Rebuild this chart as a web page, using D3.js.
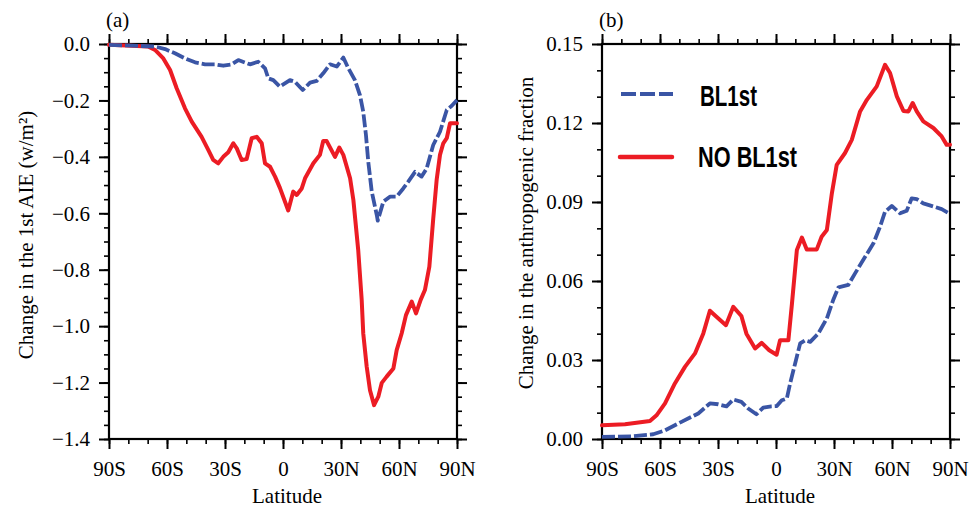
<!DOCTYPE html>
<html><head><meta charset="utf-8">
<script src="https://cdn.jsdelivr.net/npm/d3@7"></script>
<style>body{margin:0;background:#fff}</style>
</head><body><svg id="c" width="969" height="510"></svg>
<script>
const latTicks=[-90,-60,-30,0,30,60,90];
const latTickLabels=["90S","60S","30S","0","30N","60N","90N"];
const aTicks=[0,-0.2,-0.4,-0.6,-0.8,-1.0,-1.2,-1.4];
const aTickLabels=["0.0","\u22120.2","\u22120.4","\u22120.6","\u22120.8","\u22121.0","\u22121.2","\u22121.4"];
const bTicks=[0,0.03,0.06,0.09,0.12,0.15];
const bTickLabels=["0.00","0.03","0.06","0.09","0.12","0.15"];
const seriesNames=["BL1st","NO BL1st"];
const panelLabels=["(a)","(b)"];
const aTitle="Change in the 1st AIE (w/m\u00B2)";
const bTitle="Change in the anthropogenic fraction";
const xTitle="Latitude";

// Panel (a)
const aBL1stLat=[-90,-66.2,-61.0,-55.9,-50.7,-45.5,-40.3,-35.2,-30.9,-26.5,-23.1,-17.1,-12.8,-9.3,-7.6,-5.0,-1.6,3.6,6.2,10.2,14.0,17.4,20.8,24.3,27.8,31.2,33.8,37.2,39.8,41.5,42.9,44.1,45.9,48.5,49.0,51.9,55.3,58.8,62.2,64.8,68.3,71.7,74.3,77.7,81.2,84.7,87.3,90];
const aBL1stVal=[-0.003,-0.009,-0.018,-0.033,-0.051,-0.065,-0.072,-0.072,-0.077,-0.072,-0.057,-0.072,-0.063,-0.086,-0.122,-0.128,-0.151,-0.128,-0.134,-0.163,-0.137,-0.131,-0.104,-0.072,-0.080,-0.048,-0.086,-0.128,-0.181,-0.240,-0.322,-0.417,-0.523,-0.606,-0.626,-0.559,-0.541,-0.541,-0.512,-0.488,-0.453,-0.470,-0.441,-0.358,-0.311,-0.234,-0.219,-0.199];
const aNoLat=[-90,-69.8,-66.2,-61.9,-58.4,-55.0,-50.7,-47.2,-42.1,-38.6,-36.1,-33.5,-30.9,-28.3,-25.7,-23.9,-21.4,-18.8,-16.2,-13.6,-11.0,-9.3,-6.7,-4.1,-1.6,2.7,5.3,7.1,9.7,11.4,15.7,19.1,20.8,22.6,26.9,29.1,31.2,34.7,36.4,38.9,40.7,41.5,43.3,45.0,47.1,49.3,51.1,53.6,57.1,58.8,61.4,63.6,66.6,68.8,71.2,73.4,75.7,77.7,79.5,81.2,82.9,84.7,86.4,90];
const aNoVal=[-0.003,-0.009,-0.021,-0.051,-0.092,-0.157,-0.228,-0.275,-0.329,-0.376,-0.411,-0.423,-0.400,-0.384,-0.352,-0.370,-0.411,-0.408,-0.334,-0.329,-0.352,-0.423,-0.435,-0.470,-0.510,-0.590,-0.523,-0.535,-0.512,-0.476,-0.423,-0.393,-0.344,-0.344,-0.400,-0.367,-0.393,-0.476,-0.553,-0.730,-0.907,-1.025,-1.144,-1.227,-1.280,-1.250,-1.201,-1.179,-1.150,-1.085,-1.025,-0.961,-0.913,-0.955,-0.907,-0.872,-0.789,-0.620,-0.480,-0.393,-0.352,-0.334,-0.281,-0.281];

// Panel (b)
const bBL1stLat=[-90,-74.7,-63.5,-57.4,-48.9,-40.2,-34.2,-29.9,-25.6,-22.1,-17.9,-14.4,-10.1,-6.6,-2.4,0.4,3.0,5.6,7.3,9.9,12.5,15.1,17.7,21.9,26.3,29.7,32.3,37.4,40.9,46.1,50.4,53.8,56.4,59.9,64.2,67.6,70.2,72.8,76.2,81.4,85.7,90];
const bBL1stVal=[0.0008,0.0010,0.0018,0.0033,0.0065,0.0097,0.0135,0.0132,0.0124,0.0150,0.0141,0.0116,0.0094,0.0119,0.0124,0.0125,0.0147,0.0154,0.0211,0.0287,0.0363,0.0375,0.0369,0.0401,0.0458,0.0530,0.0576,0.0585,0.0629,0.0692,0.0743,0.0806,0.0863,0.0885,0.0857,0.0867,0.0914,0.0911,0.0895,0.0883,0.0873,0.0855];
const bNoLat=[-90,-78.1,-65.2,-61.8,-57.4,-52.3,-47.1,-41.9,-37.6,-34.2,-30.8,-25.9,-22.1,-17.9,-15.3,-10.8,-7.4,-3.5,0.3,2.1,6.4,8.2,10.8,13.4,15.9,21.1,23.6,26.3,28.9,31.4,35.7,39.2,43.5,47.0,52.1,56.4,59.0,62.5,65.9,68.5,70.7,72.8,76.2,81.4,85.7,88.3,90];
const bNoVal=[0.0052,0.0056,0.0068,0.0090,0.0135,0.0211,0.0274,0.0325,0.0401,0.0487,0.0464,0.0432,0.0502,0.0467,0.0400,0.0344,0.0365,0.0337,0.0320,0.0375,0.0375,0.0510,0.0718,0.0765,0.0720,0.0720,0.0768,0.0794,0.0933,0.1041,0.1086,0.1136,0.1244,0.1288,0.1339,0.1421,0.1390,0.1301,0.1246,0.1244,0.1276,0.1244,0.1206,0.1181,0.1149,0.1117,0.1117];

const BLUE="#3a55a5", RED="#ec1c24";
const SERIF="'Liberation Serif','Times New Roman',serif";
const svg=d3.select("#c");

function panel(o){
  const g=svg.append("g");
  const x=d3.scaleLinear().domain([-90,90]).range([o.left,o.right]);
  const y=d3.scaleLinear().domain(o.domain).range([439,44]);
  const minorX=d3.range(-90,91,10);
  const minorY=o.minor;
  const mk=(axis,tr)=>{const a=g.append("g").attr("transform",tr).call(axis);a.select(".domain").remove();a.selectAll("text").remove();a.selectAll("line").attr("stroke","#000").attr("stroke-width",1.6);};
  mk(d3.axisBottom(x).tickValues(minorX).tickSize(5),`translate(0,439)`);
  mk(d3.axisTop(x).tickValues(minorX).tickSize(5),`translate(0,44)`);
  mk(d3.axisLeft(y).tickValues(minorY).tickSize(5),`translate(${o.left},0)`);
  mk(d3.axisRight(y).tickValues(minorY).tickSize(5),`translate(${o.right},0)`);
  const mj=(axis,tr,keep)=>{const a=g.append("g").attr("transform",tr).call(axis);a.select(".domain").remove();if(!keep)a.selectAll("text").remove();a.selectAll("line").attr("stroke","#000").attr("stroke-width",2);a.selectAll("text").attr("font-family",SERIF).attr("font-size",21).attr("fill","#000");return a;};
  mj(d3.axisBottom(x).tickValues(latTicks).tickFormat((d,i)=>latTickLabels[i]).tickSize(10).tickPadding(12),`translate(0,439)`,true);
  mj(d3.axisTop(x).tickValues(latTicks).tickSize(10),`translate(0,44)`,false);
  mj(d3.axisLeft(y).tickValues(o.ticks).tickFormat((d,i)=>o.labels[i]).tickSize(10).tickPadding(9),`translate(${o.left},0)`,true);
  mj(d3.axisRight(y).tickValues(o.ticks).tickSize(10),`translate(${o.right},0)`,false);
  g.append("rect").attr("x",o.left).attr("y",44).attr("width",o.right-o.left).attr("height",395).attr("fill","none").attr("stroke","#000").attr("stroke-width",2.2);
  const line=d3.line().x(d=>x(d[0])).y(d=>y(d[1]));
  g.append("path").datum(d3.zip(o.noLat,o.noVal)).attr("d",line).attr("fill","none").attr("stroke",RED).attr("stroke-width",4).attr("stroke-linejoin","round").attr("stroke-linecap","round");
  g.append("path").datum(d3.zip(o.blLat,o.blVal)).attr("d",line).attr("fill","none").attr("stroke",BLUE).attr("stroke-width",3.8).attr("stroke-dasharray","13,3").attr("stroke-linejoin","round");
  g.append("text").attr("x",(o.left+o.right)/2+4).attr("y",503).attr("text-anchor","middle").attr("font-family",SERIF).attr("font-size",21).text(xTitle);
  g.append("text").attr("transform",`translate(${o.ytx},${o.yty}) rotate(-90)`).attr("text-anchor","middle").attr("font-family",SERIF).attr("font-size",21).text(o.title);
  g.append("text").attr("x",o.left-3).attr("y",27).attr("font-family",SERIF).attr("font-size",21).text(o.plabel);
}

panel({left:109,right:457,domain:[-1.4,0],ticks:aTicks,labels:aTickLabels,minor:d3.range(-1.4,0.001,0.05).map(v=>+v.toFixed(2)),
  blLat:aBL1stLat,blVal:aBL1stVal,noLat:aNoLat,noVal:aNoVal,title:aTitle,ytx:33,yty:235,plabel:panelLabels[0]});
panel({left:602,right:950,domain:[0,0.15],ticks:bTicks,labels:bTickLabels,minor:d3.range(0,0.1501,0.01).map(v=>+v.toFixed(2)),
  blLat:bBL1stLat,blVal:bBL1stVal,noLat:bNoLat,noVal:bNoVal,title:bTitle,ytx:533,yty:233,plabel:panelLabels[1]});

const SANS="'Liberation Sans Narrow','Liberation Sans',Arial,sans-serif";
const leg=svg.append("g");
leg.append("line").attr("x1",621).attr("x2",673).attr("y1",94).attr("y2",94).attr("stroke",BLUE).attr("stroke-width",4).attr("stroke-dasharray","15,4");
leg.append("line").attr("x1",620).attr("x2",672).attr("y1",157).attr("y2",157).attr("stroke",RED).attr("stroke-width",4.5).attr("stroke-linecap","round");
leg.append("text").attr("x",700).attr("y",106).attr("font-family",SANS).attr("font-weight","bold").attr("font-size",29).attr("textLength",57).attr("lengthAdjust","spacingAndGlyphs").text(seriesNames[0]);
leg.append("text").attr("x",698).attr("y",167).attr("font-family",SANS).attr("font-weight","bold").attr("font-size",29).attr("textLength",99).attr("lengthAdjust","spacingAndGlyphs").text(seriesNames[1]);
</script></body></html>
